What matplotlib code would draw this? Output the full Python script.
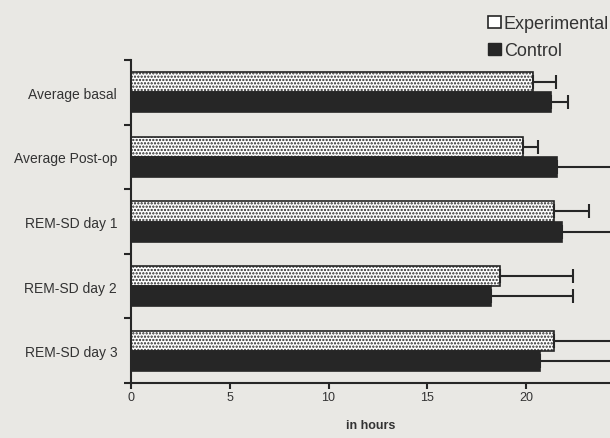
import numpy as np
from matplotlib import pyplot as plt
from matplotlib.patches import Patch

plt.rcParams['font.family'] = ['Liberation Sans', 'DejaVu Sans']
plt.rcParams['hatch.linewidth'] = 1.1

categories = ["Average basal", "Average Post-op", "REM-SD day 1",
              "REM-SD day 2", "REM-SD day 3"]
experimental = [20.35, 19.85, 21.4, 18.7, 21.4]
experimental_err = [1.15, 0.75, 1.8, 3.7, 3.5]
control = [21.27, 21.55, 21.8, 18.2, 20.7]
control_err = [0.85, 2.8, 2.6, 4.2, 4.0]
x_ticks = [0, 5, 10, 15, 20]

paper = "#e9e8e4"
ink = "#262626"

fig = plt.figure(figsize=(6.1, 4.39), dpi=100, facecolor=paper)
ax = fig.add_axes([0.2148, 0.1253, 0.7852, 0.7357])
ax.set_facecolor(paper)

y = np.arange(len(categories))
h = 0.31

ax.barh(y - h / 2, experimental, height=h, color="white", edgecolor=ink,
        linewidth=1.2, hatch=".....", label="Experimental")
ax.barh(y + h / 2, control, height=h, color=ink, edgecolor=ink,
        linewidth=1.2, label="Control")

zeros = np.zeros(len(categories))
ax.errorbar(experimental, y - h / 2, xerr=[zeros, experimental_err],
            fmt="none", ecolor=ink, elinewidth=1.5, capsize=5, capthick=1.5)
ax.errorbar(control, y + h / 2, xerr=[zeros, control_err],
            fmt="none", ecolor=ink, elinewidth=1.5, capsize=5, capthick=1.5)

ax.set_xlim(0, 24.25)
ax.set_ylim(4.5, -0.5)

# category labels at the middle, ticks at the boundaries
ax.set_yticks(np.arange(-0.5, len(categories)), minor=False)
ax.set_yticklabels([])
ax.set_yticks(y, minor=True)
ax.set_yticklabels(categories, minor=True, fontsize=10, color="#333333")
ax.tick_params(axis="y", which="minor", length=0, pad=10)
ax.tick_params(axis="y", which="major", length=5, width=1.5, color=ink)

ax.set_xticks(x_ticks)
ax.tick_params(axis="x", length=4, width=1.5, color=ink, labelsize=9,
               labelcolor="#333333", pad=2)
ax.set_xlabel("in hours", fontsize=9, fontweight="bold", color="#333333",
              labelpad=11)

for s in ["top", "right"]:
    ax.spines[s].set_visible(False)
for s in ["left", "bottom"]:
    ax.spines[s].set_linewidth(1.5)
    ax.spines[s].set_color(ink)

handles = [Patch(facecolor="white", edgecolor=ink, linewidth=1.2),
           Patch(facecolor=ink, edgecolor=ink)]
fig.legend(handles, ["Experimental", "Control"], loc="upper right",
           bbox_to_anchor=(1.025, 1.0), frameon=False, fontsize=13,
           handlelength=0.7, handleheight=0.7, handletextpad=0.15,
           labelspacing=0.55, labelcolor="#333333")

fig.savefig("out.png", dpi=100, facecolor=paper)
